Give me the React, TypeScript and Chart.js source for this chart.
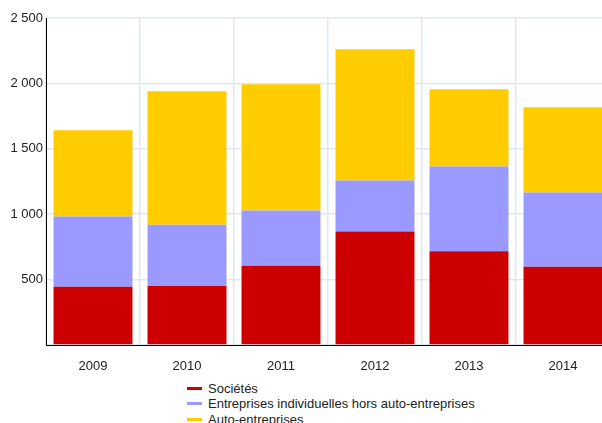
import React, { useEffect, useRef } from "react";
import { Chart, registerables } from "chart.js";

Chart.register(...registerables);

const categories = ["2009", "2010", "2011", "2012", "2013", "2014"];
const societes = [445, 452, 606, 867, 716, 598];
const entreprisesIndiv = [537, 468, 422, 391, 649, 568];
const autoEntreprises = [659, 1020, 966, 1004, 591, 652];
const seriesNames = ["Sociétés", "Entreprises individuelles hors auto-entreprises", "Auto-entreprises"];
const seriesColors = ["#cc0000", "#9999ff", "#ffcc00"];

const FONT = "'Liberation Sans', Arial, sans-serif";

export default function App() {
  const ref = useRef<HTMLCanvasElement | null>(null);
  useEffect(() => {
    if (!ref.current) return;
    const chart = new Chart(ref.current, {
      type: "bar",
      data: {
        labels: categories,
        datasets: [
          { label: seriesNames[0], data: societes, backgroundColor: seriesColors[0] },
          { label: seriesNames[1], data: entreprisesIndiv, backgroundColor: seriesColors[1] },
          { label: seriesNames[2], data: autoEntreprises, backgroundColor: seriesColors[2] },
        ],
      },
      options: {
        responsive: false,
        animation: false,
        datasets: { bar: { categoryPercentage: 1, barPercentage: 0.84 } },
        layout: { padding: { top: 18, left: 0, right: 2, bottom: 0 } },
        plugins: { legend: { display: false }, tooltip: { enabled: false } },
        scales: {
          x: {
            stacked: true,
            grid: { color: "#dde9f6", lineWidth: 1.5, drawTicks: false, offset: true },
            border: { color: "#000", width: 1 },
            ticks: { color: "#222", font: { family: FONT, size: 13 }, padding: 14 },
            afterFit: (s: any) => { s.height = 36; },
          },
          y: {
            stacked: true,
            min: 0,
            max: 2500,
            grid: { color: "#dde9f6", lineWidth: 1.5, drawTicks: false },
            border: { color: "#000", width: 1 },
            ticks: {
              stepSize: 500,
              color: "#222",
              font: { family: FONT, size: 13 },
              padding: 3,
              callback: (v: any) => (Number(v) === 0 ? "" : Number(v).toLocaleString("en-US").replace(",", " ")),
            },
            afterFit: (s: any) => { s.width = 46; },
          },
        },
      },
    });
    return () => chart.destroy();
  }, []);

  return (
    <div style={{ position: "absolute", left: 0, top: 0, width: 602, height: 423, overflow: "hidden", background: "#fff" }}>
      <canvas ref={ref} width={612} height={381} style={{ display: "block" }} />
      <div style={{ position: "absolute", left: 187, top: 381, fontFamily: FONT, fontSize: 13, color: "#222", lineHeight: "15.3px" }}>
        {seriesNames.map((n, i) => (
          <div key={n} style={{ display: "flex", alignItems: "center", whiteSpace: "nowrap" }}>
            <span style={{ display: "inline-block", width: 15, height: 3, background: seriesColors[i], marginRight: 6 }} />
            <span>{n}</span>
          </div>
        ))}
      </div>
    </div>
  );
}
